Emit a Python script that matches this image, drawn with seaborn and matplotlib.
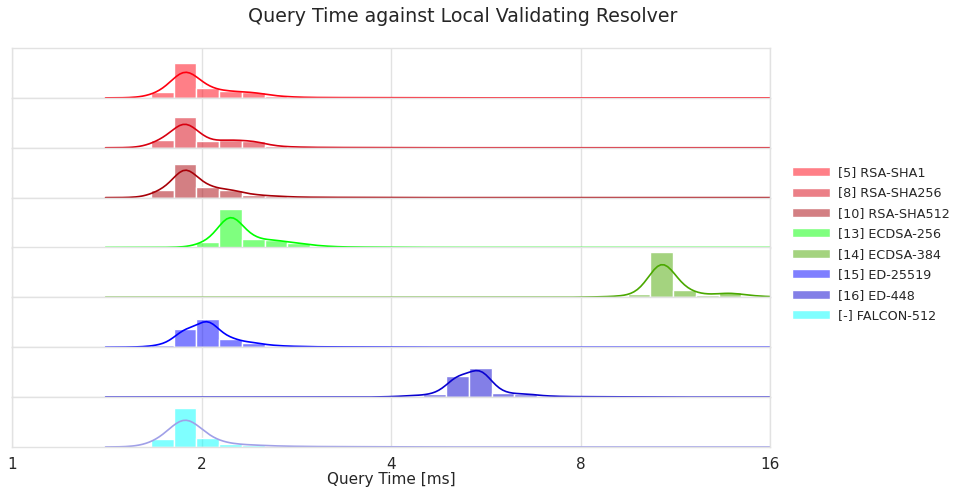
import numpy as np
import pandas as pd
import matplotlib
matplotlib.use("Agg")
import matplotlib.pyplot as plt
import seaborn as sns

# signature algorithms, top to bottom
algorithms = ["[5] RSA-SHA1", "[8] RSA-SHA256", "[10] RSA-SHA512", "[13] ECDSA-256",
              "[14] ECDSA-384", "[15] ED-25519", "[16] ED-448", "[-] FALCON-512"]
colors = ["#ff0010", "#d80010", "#a80008", "#00ff00",
          "#4aa800", "#0000ff", "#0800d0", "#00ffff"]

# common log2 bins: 30 bins starting at the fastest query (~1.41 ms)
n_bins = 30
bin_lo = 0.494
bin_w = 0.1198
data_min_ms = 1.408

# counts per bin (index 0..29)
rsa_sha1 =   [0, .3, 6, 34.5, 9.5, 6.5, 5.8, 1.8, .6, .3, .25, .2, .15, .1] + [0] * 16
rsa_sha256 = [0, .3, 8, 30.6, 6.3, 8, 7, 1.5, .6, .3, .2, .15, .1] + [0] * 17
rsa_sha512 = [0, .3, 7.3, 33.6, 11, 8, 3, 1.5, .5, .3, .2, .15, .1] + [0] * 17
ecdsa_256 =  [0, 0, 0, .3, 5.6, 38.3, 9, 7.3, 4.3, 1.5, .5, .3, .2, .1] + [0] * 16
ecdsa_384 =  [0] * 21 + [.4, 1, 3, 45.6, 7.3, 2.3, 5, 1.5, .5]
ed_25519 =   [0, .3, 2.3, 18, 28.3, 8.6, 4.6, 1.6, .8, .4, .3, .2, .1] + [0] * 17
ed_448 =     [0] * 12 + [.4, 1.5, 3, 21.6, 29.6, 4, 3.3, 1, .5, .4, .3, .2] + [0] * 6
falcon_512 = [0, .5, 8, 39, 9, 3, 2, 1, .6, .4, .3, .3, .2, .2] + [0] * 16

counts = [rsa_sha1, rsa_sha256, rsa_sha512, ecdsa_256,
          ecdsa_384, ed_25519, ed_448, falcon_512]

centers = 2 ** (bin_lo + bin_w * (np.arange(n_bins) + 0.5))

frames = []
for name, c in zip(algorithms, counts):
    frames.append(pd.DataFrame({"query_ms": np.r_[data_min_ms, centers],
                                "count": np.r_[0, c], "algorithm": name}))
df = pd.concat(frames, ignore_index=True)

sns.set_theme(style="whitegrid", rc={"axes.edgecolor": "#e2e2e2", "grid.color": "#e2e2e2",
                                     "axes.linewidth": 1.0, "legend.fontsize": 9.2})

g = sns.displot(
    data=df, x="query_ms", weights="count",
    row="algorithm", hue="algorithm",
    row_order=algorithms, hue_order=algorithms,
    palette=colors, kind="hist", kde=True, log_scale=2,
    bins=n_bins, binrange=(bin_lo, bin_lo + n_bins * bin_w),
    kde_kws=dict(bw_adjust=0.4), line_kws=dict(lw=1.2),
    height=0.6, aspect=12,
    facet_kws=dict(despine=False, sharey=True),
)

g.set_titles("")
g.set_ylabels("")
for ax in g.axes.flat:
    ax.set_xlim(1, 16)
    ax.set_ylim(0, 50)
    ax.set_yticks([])
    ax.set_xticks([1, 2, 4, 8, 16], ["1", "2", "4", "8", "16"])
    ax.tick_params(axis="x", pad=1.5, labelsize=11)
g.axes.flat[-1].set_xlabel("Query Time [ms]", fontsize=11, labelpad=0)

# falcon curve is drawn in a pale violet in the original
g.axes.flat[-1].lines[0].set_color("#a0a0e8")

g.figure.set_size_inches(9.67, 4.95)
g.figure.subplots_adjust(left=12 / 967, right=770 / 967,
                         top=1 - 48 / 495, bottom=1 - 447 / 495, hspace=0)
g.figure.suptitle("Query Time against Local Validating Resolver",
                  x=0.478, y=0.985, fontsize=13.7)
sns.move_legend(g, "center left", bbox_to_anchor=(0.807, 0.507),
                title="", frameon=False, fontsize=9.2,
                handlelength=3.0, handletextpad=0.64, labelspacing=0.58)

g.figure.savefig("out.png", dpi=100)
